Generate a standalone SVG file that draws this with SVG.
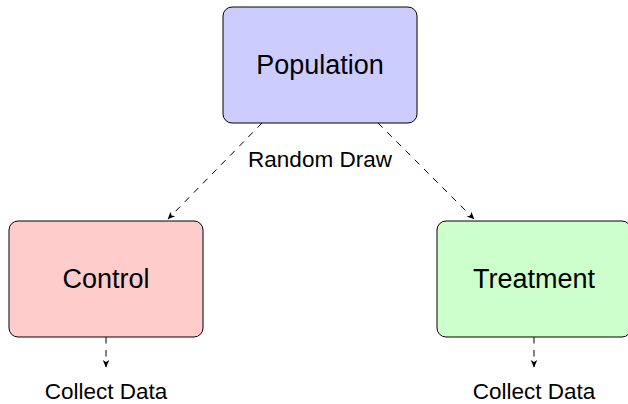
<svg xmlns="http://www.w3.org/2000/svg" width="628" height="404" viewBox="0 0 628 404">
  <style>
    .box { stroke: #000; stroke-width: 1; }
    .label { font-family: "Liberation Sans", Arial, sans-serif; font-size: 27px; fill: #000; text-anchor: middle; }
    .small { font-family: "Liberation Sans", Arial, sans-serif; font-size: 22.5px; fill: #000; text-anchor: middle; }
    .edge { fill: none; stroke: #000; stroke-width: 1; stroke-dasharray: 6.5 6.5; }
  </style>
  <defs>
    <marker id="tip" viewBox="-8 -4 9 8" refX="0" refY="0" markerWidth="9" markerHeight="8" markerUnits="userSpaceOnUse" orient="auto">
      <path d="M0.5,0 L-7,-3.3 L-5,0 L-7,3.3 Z" fill="#000"/>
    </marker>
  </defs>

  <rect width="628" height="404" fill="#fff"/>

  <!-- connectors -->
  <g id="connectors">
    <line class="edge" x1="262" y1="123" x2="168" y2="219" marker-end="url(#tip)"/>
    <line class="edge" x1="378" y1="123" x2="474" y2="219" marker-end="url(#tip)"/>
    <line class="edge" x1="106" y1="337" x2="106" y2="367" marker-end="url(#tip)"/>
    <line class="edge" x1="534" y1="337" x2="534" y2="367" marker-end="url(#tip)"/>
    <text class="small" x="320" y="167">Random Draw</text>
  </g>

  <!-- nodes -->
  <g id="population">
    <rect class="box" x="223" y="7" width="194" height="116" rx="9" fill="#ccccff"/>
    <text class="label" x="320" y="74">Population</text>
  </g>
  <g id="control">
    <rect class="box" x="9" y="221" width="194" height="116" rx="9" fill="#ffcccc"/>
    <text class="label" x="106" y="288">Control</text>
  </g>
  <g id="treatment">
    <rect class="box" x="437" y="221" width="194" height="116" rx="9" fill="#ccffcc"/>
    <text class="label" x="534" y="288">Treatment</text>
  </g>
  <g id="collect-control">
    <text class="small" x="106" y="399">Collect Data</text>
  </g>
  <g id="collect-treatment">
    <text class="small" x="534" y="399">Collect Data</text>
  </g>
</svg>
